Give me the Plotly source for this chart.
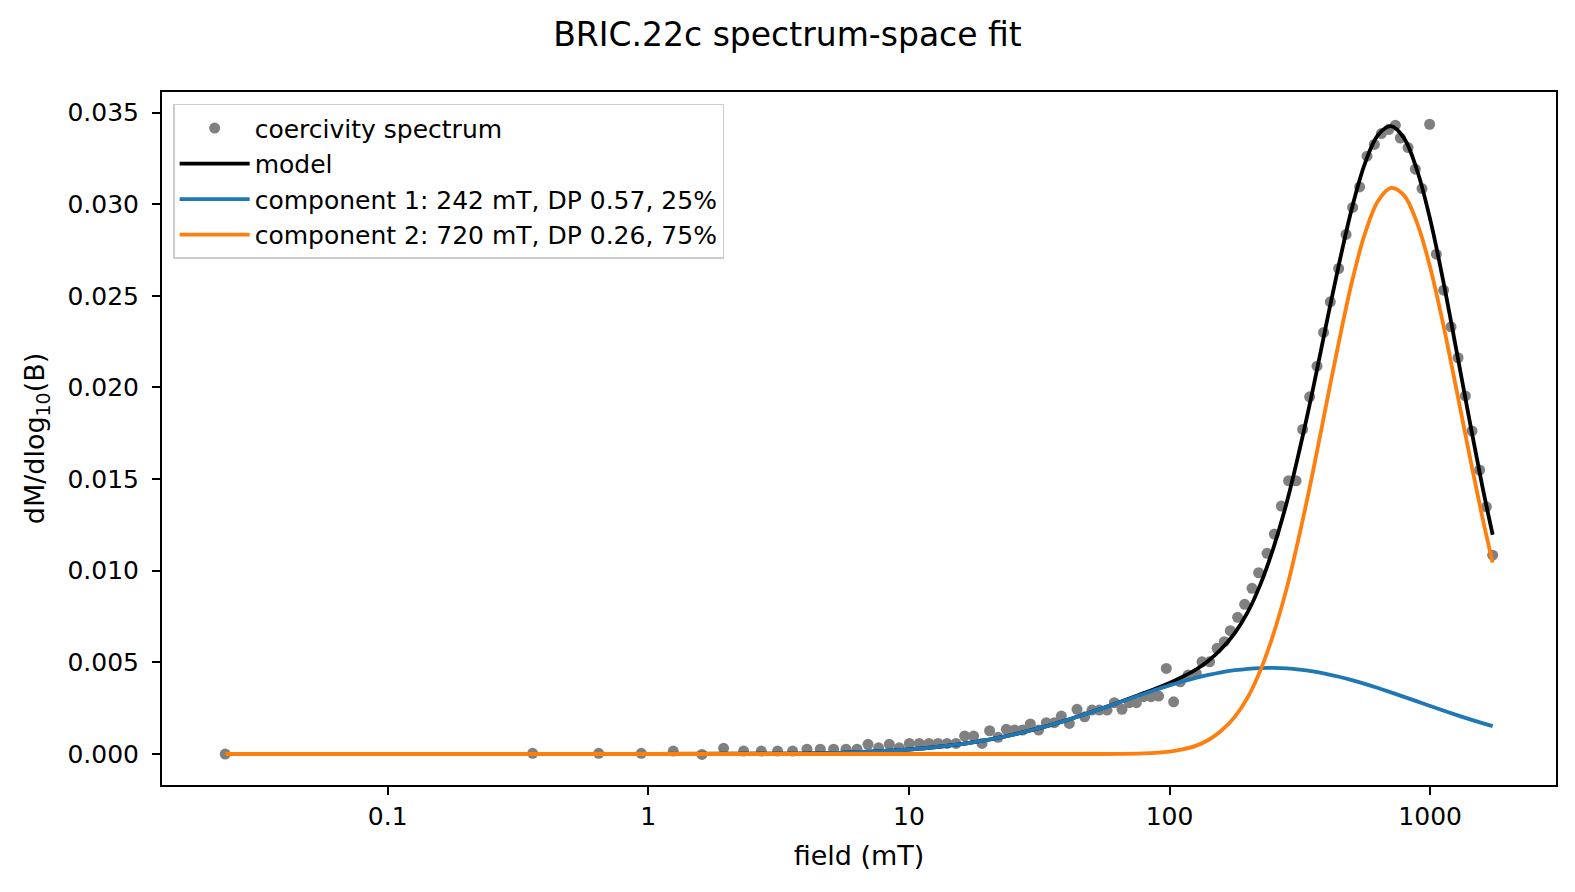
import plotly.graph_objects as go

# ---- data ----
field_mT = [0.0238, 0.360, 0.645, 0.940, 1.247, 1.607, 1.945, 2.321, 2.714, 3.135,
            3.578, 4.064, 4.571, 5.141, 5.736, 6.321, 6.968, 7.650, 8.41, 9.19,
            10.04, 10.96, 11.94, 12.93, 14.00, 15.16, 16.36, 17.72, 19.08, 20.40,
            21.98, 23.65, 25.44, 27.31, 29.24, 31.46, 33.67, 36.14, 38.45, 41.26,
            44.16, 47.23, 50.43, 53.78, 57.58, 61.41, 65.73, 70.13, 74.58, 79.55,
            84.92, 90.82, 97.21, 103.7, 110.0, 117.8, 126.7, 133.3, 142.5, 152.2,
            162.3, 171.1, 182.5, 194.2, 207.3, 219.8, 236.7, 252.5, 268.5, 286.4,
            305.8, 324.2, 344.9, 368.1, 390.2, 414.0, 445.6, 475.7, 504.2, 536.3,
            572.6, 610.8, 649.6, 693.0, 735.6, 768.7, 822.8, 877.5, 930.9, 995.6,
            1056.4, 1126.7, 1202.9, 1279.7, 1365.0, 1448.1, 1548.8, 1643.1, 1737.6]
spectrum = [0.0, 0.00004, 0.00004, 0.00004, 0.00016, -0.00002, 0.00031, 0.00016, 0.00016, 0.00016,
            0.00016, 0.00026, 0.00026, 0.00026, 0.00026, 0.00026, 0.00053, 0.00034, 0.00053, 0.00034,
            0.00058, 0.00058, 0.00058, 0.00058, 0.00058, 0.00058, 0.00098, 0.00098, 0.00058, 0.00127,
            0.00091, 0.00135, 0.00131, 0.00131, 0.00164, 0.00131, 0.00171, 0.00171, 0.00207, 0.00167,
            0.00244, 0.00203, 0.00240, 0.00240, 0.00240, 0.00280, 0.00244, 0.00280, 0.00280, 0.00313,
            0.00313, 0.00316, 0.00467, 0.00285, 0.00394, 0.00431, 0.00440, 0.00503, 0.00503, 0.00577,
            0.00613, 0.00673, 0.00746, 0.00817, 0.00904, 0.00989, 0.01095, 0.01200, 0.01353, 0.01491,
            0.01491, 0.01771, 0.01949, 0.02116, 0.02300, 0.02467, 0.02649, 0.02835, 0.02982, 0.03094,
            0.03262, 0.03326, 0.03385, 0.03407, 0.03431, 0.03361, 0.03309, 0.03191, 0.03085, 0.03436,
            0.02727, 0.02531, 0.02331, 0.02162, 0.01954, 0.01763, 0.01549, 0.01349, 0.01085]

curve_field_mT = [0.0238, 0.1, 1, 3.16, 5.62, 10, 13.3, 17.8, 23.7, 31.6, 39.8, 50.1, 63.1, 79.4,
                  100, 112, 126, 141, 158, 178, 200, 224, 251, 282, 316, 355, 398, 447,
                  501, 562, 631, 708, 794, 891, 1000, 1122, 1259, 1413, 1585, 1738]
component1 = [0.0, 0.0, 0.0, 0.00002, 0.000077, 0.000246, 0.00041, 0.00065, 0.000981, 0.001412,
              0.001825, 0.002288, 0.00278, 0.003277, 0.003746, 0.003958, 0.004152, 0.00432,
              0.004461, 0.004572, 0.004649, 0.004692, 0.004698, 0.004669, 0.004604, 0.004505,
              0.004374, 0.004215, 0.00403, 0.003824, 0.003601, 0.003365, 0.00312, 0.002871,
              0.002621, 0.002375, 0.002136, 0.001905, 0.001687, 0.001522]
component2 = [0.0, 0.0, 0.0, 0.0, 0.0, 0.0, 0.0, 0.0, 0.0, 0.0, 0.0, 0.0000015, 0.000008, 0.000035,
              0.000135, 0.00025, 0.000446, 0.000766, 0.001269, 0.002026, 0.003115, 0.004617,
              0.006591, 0.009078, 0.01204, 0.01539, 0.01896, 0.02251, 0.02575, 0.02839,
              0.03017, 0.03089, 0.03048, 0.02898, 0.02656, 0.02346, 0.01996, 0.01638,
              0.01294, 0.01044]
model = [0.0, 0.0, 0.0, 0.00002, 0.000077, 0.000246, 0.00041, 0.00065, 0.000981, 0.001412,
         0.001825, 0.00229, 0.002788, 0.003312, 0.003881, 0.004208, 0.004598, 0.005086,
         0.00573, 0.006598, 0.007764, 0.009309, 0.011289, 0.013747, 0.016644, 0.019895,
         0.023334, 0.026725, 0.02978, 0.032214, 0.033771, 0.034255, 0.0336, 0.031851,
         0.029181, 0.025835, 0.022096, 0.018285, 0.014627, 0.011962]

x_tickvals = [0.1, 1, 10, 100, 1000]
x_ticktext = ["0.1", "1", "10", "100", "1000"]
y_tickvals = [0.0, 0.005, 0.010, 0.015, 0.020, 0.025, 0.030, 0.035]

FONT = "DejaVu Sans"

fig = go.Figure()
fig.add_trace(go.Scatter(x=field_mT, y=spectrum, mode="markers", name="coercivity spectrum",
                         marker=dict(color="#808080", size=11, line=dict(width=0))))
fig.add_trace(go.Scatter(x=curve_field_mT, y=model, mode="lines", name="model",
                         line=dict(color="#000000", width=3.8, shape="spline")))
fig.add_trace(go.Scatter(x=curve_field_mT, y=component1, mode="lines",
                         name="component 1: 242 mT, DP 0.57, 25%",
                         line=dict(color="#1f77b4", width=3.8, shape="spline")))
fig.add_trace(go.Scatter(x=curve_field_mT, y=component2, mode="lines",
                         name="component 2: 720 mT, DP 0.26, 75%",
                         line=dict(color="#ff7f0e", width=3.8, shape="spline")))

axis_common = dict(showline=True, linecolor="black", linewidth=2, mirror=True,
                   ticks="outside", ticklen=8, tickwidth=2, tickcolor="black",
                   showgrid=False, zeroline=False,
                   tickfont=dict(family=FONT, size=25, color="black"))

fig.update_xaxes(type="log", range=[-1.866, 3.483], tickvals=x_tickvals, ticktext=x_ticktext,
                 title=dict(text="field (mT)", font=dict(family=FONT, size=27, color="black"),
                            standoff=16),
                 **axis_common)
fig.update_yaxes(range=[-0.00169, 0.03612], tickvals=y_tickvals, tickformat=".3f",
                 ticklabelstandoff=8,
                 title=dict(text="dM/dlog<sub>10</sub>(B)",
                            font=dict(family=FONT, size=27, color="black"), standoff=15),
                 **axis_common)

fig.update_layout(
    width=1575, height=892,
    margin=dict(l=162, r=19, t=92, b=107, autoexpand=False),
    paper_bgcolor="white", plot_bgcolor="white",
    font=dict(family=FONT, color="black"),
    title=dict(text="BRIC.22c spectrum-space fit", x=0.5, xref="container", xanchor="center",
               y=1 - 34 / 892, yref="container", yanchor="middle",
               font=dict(family=FONT, size=33, color="black")),
    legend=dict(x=0.008, y=0.983, xanchor="left", yanchor="top",
                bgcolor="rgba(255,255,255,0.8)", bordercolor="#cccccc", borderwidth=1.5,
                font=dict(family=FONT, size=25, color="black"),
                itemwidth=70, tracegroupgap=0),
    showlegend=True,
)

fig.write_html("out.html")
